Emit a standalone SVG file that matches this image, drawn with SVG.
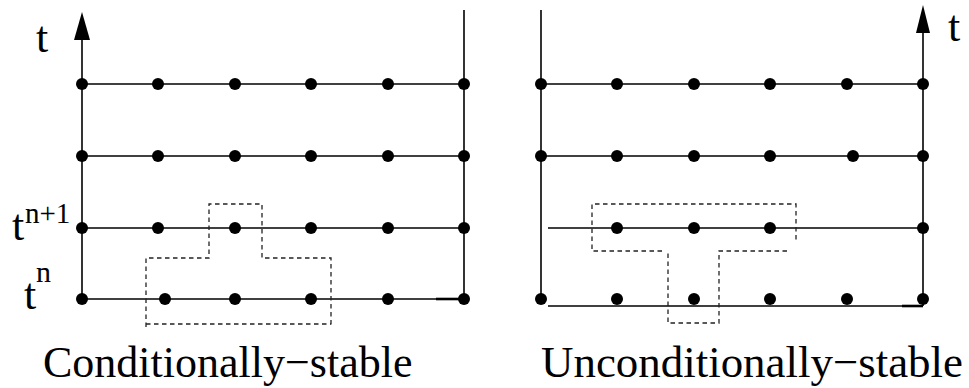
<svg xmlns="http://www.w3.org/2000/svg" width="969" height="388" viewBox="0 0 969 388">
<style>
.ln{stroke:#000;stroke-width:1.6;fill:none}
.th{stroke:#000;stroke-width:2.6;fill:none}
.ds{stroke:#222;stroke-width:1.3;fill:none;stroke-dasharray:4.5,3.5}
.dot{fill:#000}
text{font-family:"Liberation Serif","DejaVu Serif",serif;fill:#000}
</style>
<rect width="969" height="388" fill="#fff"/>
<g id="left-panel">
  <g id="left-grid">
    <line class="ln" x1="82" y1="38" x2="82" y2="299"/>
    <polygon points="82,12 74,40 90,40" fill="#000"/>
    <line class="ln" x1="464" y1="10" x2="464" y2="299"/>
    <line class="ln" x1="82" y1="84" x2="464" y2="84"/>
    <line class="ln" x1="82" y1="156" x2="464" y2="156"/>
    <line class="ln" x1="82" y1="228" x2="464" y2="228"/>
    <line class="ln" x1="82" y1="299" x2="464" y2="299"/>
    <line class="th" x1="436" y1="299" x2="464" y2="299"/>
  </g>
  <g id="left-dots" class="dot">
    <circle cx="82" cy="84" r="6"/><circle cx="158" cy="84" r="6"/><circle cx="235" cy="84" r="6"/><circle cx="311" cy="84" r="6"/><circle cx="388" cy="84" r="6"/><circle cx="464" cy="84" r="6"/>
    <circle cx="82" cy="156" r="6"/><circle cx="158" cy="156" r="6"/><circle cx="235" cy="156" r="6"/><circle cx="311" cy="156" r="6"/><circle cx="388" cy="156" r="6"/><circle cx="464" cy="156" r="6"/>
    <circle cx="82" cy="228" r="6"/><circle cx="158" cy="228" r="6"/><circle cx="235" cy="228" r="6"/><circle cx="311" cy="228" r="6"/><circle cx="388" cy="228" r="6"/><circle cx="464" cy="228" r="6"/>
    <circle cx="82" cy="299" r="6"/><circle cx="165" cy="299" r="6"/><circle cx="235" cy="299" r="6"/><circle cx="311" cy="299" r="6"/><circle cx="388" cy="299" r="6"/><circle cx="464" cy="299" r="6"/>
  </g>
  <g id="left-stencil">
    <path class="ds" d="M146,327 V258 H209 V204 H262 V258 H331 V326 M146,324 H331"/>
  </g>
  <g id="left-labels">
    <text x="36" y="52" font-size="44" font-family="Liberation Serif, DejaVu Serif, serif">t</text>
    <text x="12" y="240" font-size="44" font-family="Liberation Serif, DejaVu Serif, serif">t</text>
    <text x="25" y="223" font-size="29" font-family="Liberation Serif, DejaVu Serif, serif">n+1</text>
    <text x="24" y="309" font-size="44" font-family="Liberation Serif, DejaVu Serif, serif">t</text>
    <text x="36" y="282" font-size="30" font-family="Liberation Serif, DejaVu Serif, serif">n</text>
    <text x="43" y="377" font-size="44" font-family="Liberation Serif, DejaVu Serif, serif">Conditionally−stable</text>
  </g>
</g>
<g id="right-panel">
  <g id="right-grid">
    <line class="ln" x1="541" y1="10" x2="541" y2="299"/>
    <line class="ln" x1="923" y1="30" x2="923" y2="306"/>
    <polygon points="923,5 916,33 930,33" fill="#000"/>
    <line class="ln" x1="541" y1="84" x2="923" y2="84"/>
    <line class="ln" x1="541" y1="156" x2="923" y2="156"/>
    <line class="ln" x1="548" y1="228" x2="923" y2="228"/>
    <line class="ln" x1="548" y1="306" x2="923" y2="306"/>
    <line class="th" x1="902" y1="306" x2="923" y2="306"/>
  </g>
  <g id="right-dots" class="dot">
    <circle cx="541" cy="84" r="6"/><circle cx="617" cy="84" r="6"/><circle cx="694" cy="84" r="6"/><circle cx="770" cy="84" r="6"/><circle cx="847" cy="84" r="6"/><circle cx="923" cy="84" r="6"/>
    <circle cx="541" cy="156" r="6"/><circle cx="617" cy="156" r="6"/><circle cx="694" cy="156" r="6"/><circle cx="770" cy="156" r="6"/><circle cx="853" cy="156" r="6"/><circle cx="923" cy="156" r="6"/>
    <circle cx="617" cy="228" r="6"/><circle cx="694" cy="228" r="6"/><circle cx="770" cy="228" r="6"/><circle cx="923" cy="228" r="6"/>
    <circle cx="541" cy="299" r="6"/><circle cx="617" cy="299" r="6"/><circle cx="694" cy="299" r="6"/><circle cx="770" cy="299" r="6"/><circle cx="847" cy="299" r="6"/><circle cx="923" cy="299" r="6"/>
  </g>
  <g id="right-stencil">
    <path class="ds" d="M662,251 H592 V204 H796 V243 M787,251 H719 V323 H668 V252"/>
  </g>
  <g id="right-labels">
    <text x="948" y="41" font-size="44" font-family="Liberation Serif, DejaVu Serif, serif">t</text>
    <text x="541" y="377" font-size="44" font-family="Liberation Serif, DejaVu Serif, serif" textLength="422" lengthAdjust="spacingAndGlyphs">Unconditionally−stable</text>
  </g>
</g>
</svg>
